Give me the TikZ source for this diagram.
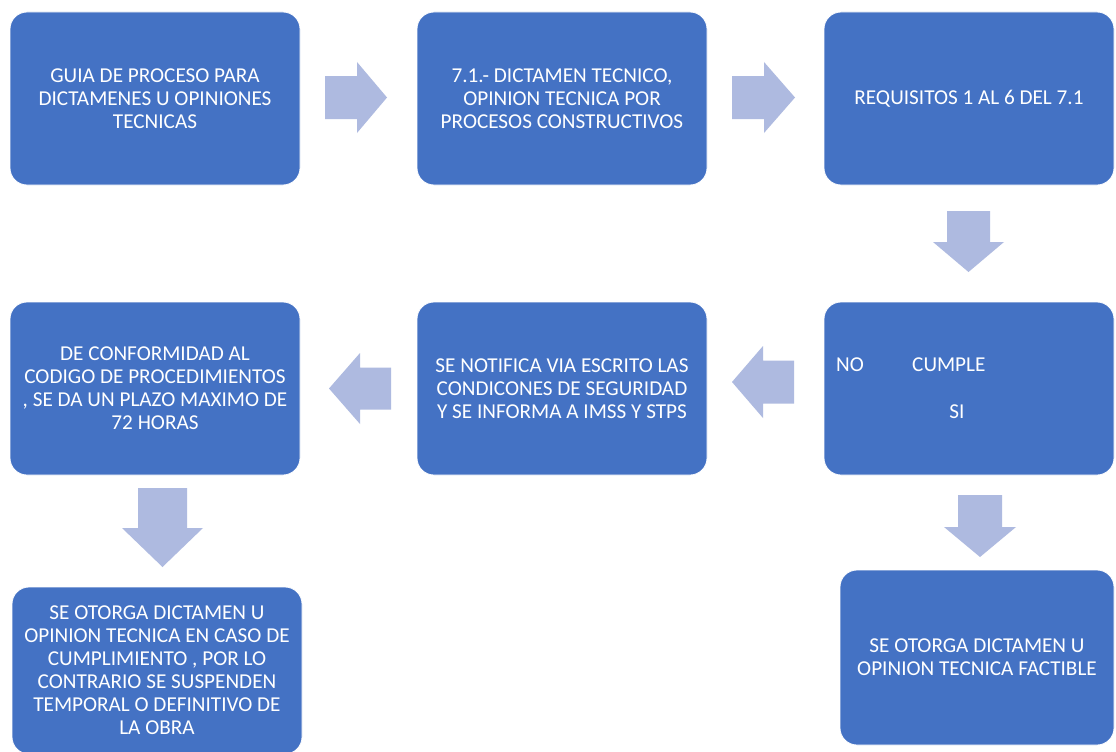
\documentclass[tikz,border=0pt]{standalone}
\usepackage{fontspec}
\setmainfont{Carlito}
\definecolor{boxc}{HTML}{4472C4}
\definecolor{arrowc}{HTML}{AEBAE0}
\newcommand\harrow[6]{\fill[arrowc] (#1,#4-#5) -- (#2,#4-#5) -- (#2,#4-#6) -- (#3,#4) -- (#2,#4+#6) -- (#2,#4+#5) -- (#1,#4+#5) -- cycle;}
\newcommand\varrow[6]{\fill[arrowc] (#1-#5,#2) -- (#1-#5,#3) -- (#1-#6,#3) -- (#1,#4) -- (#1+#6,#3) -- (#1+#5,#3) -- (#1+#5,#2) -- cycle;}
\begin{document}
\begin{tikzpicture}[x=1pt,y=-1pt,
  box/.style={fill=boxc, draw=white, line width=0.8pt, rounded corners=17pt, text=white,
    align=center, inner sep=0pt, font=\fontsize{21.2}{23}\selectfont},
  lbl/.style={text=white, inner sep=0pt, font=\fontsize{21.2}{23}\selectfont}]
\useasboundingbox (0,0) rectangle (1116,752);
\fill[white] (0,0) rectangle (1116,752);
% boxes
\node[box, minimum width=290, minimum height=173] (b1) at (155,98.5)
  {GUIA DE PROCESO PARA\\DICTAMENES U OPINIONES\\TECNICAS};
\node[box, minimum width=290, minimum height=173] (b2) at (562,98.5)
  {7.1.- DICTAMEN TECNICO,\\OPINION TECNICA POR\\PROCESOS CONSTRUCTIVOS};
\node[box, minimum width=290, minimum height=173] (b3) at (969,98.5)
  {REQUISITOS 1 AL 6 DEL 7.1};
\node[box, minimum width=290, minimum height=173] (b4) at (969,388.5) {};
\node[lbl, anchor=west] (no) at (836,365) {NO};
\node[lbl, anchor=west] (cumple) at (912,365) {CUMPLE};
\node[lbl] (si) at (957,412) {SI};
\node[box, minimum width=290, minimum height=173] (b5) at (562,388.5)
  {SE NOTIFICA VIA ESCRITO LAS\\CONDICONES DE SEGURIDAD\\Y SE INFORMA A IMSS Y STPS};
\node[box, minimum width=290, minimum height=173] (b6) at (155,388.5)
  {DE CONFORMIDAD AL\\CODIGO DE PROCEDIMIENTOS\\, SE DA UN PLAZO MAXIMO DE\\72 HORAS};
\node[box, minimum width=290, minimum height=167] (b7) at (157,670.5)
  {SE OTORGA DICTAMEN U\\OPINION TECNICA EN CASO DE\\CUMPLIMIENTO , POR LO\\CONTRARIO SE SUSPENDEN\\TEMPORAL O DEFINITIVO DE\\LA OBRA};
\node[box, minimum width=274, minimum height=175] (b8) at (977,657.5)
  {SE OTORGA DICTAMEN U\\OPINION TECNICA FACTIBLE};
% block arrows
\harrow{325}{357}{387}{97.5}{21.5}{35.5}
\harrow{732}{764}{795}{97.5}{21.5}{35.5}
\varrow{968.5}{211}{242}{272}{21.5}{35.5}
\harrow{794}{763}{732}{382}{21.5}{36}
\harrow{391}{360}{329}{388.5}{21}{35.5}
\varrow{162.5}{488}{528}{567}{24.5}{40.5}
\varrow{980}{495}{527}{557}{22}{36}
\end{tikzpicture}
\end{document}
